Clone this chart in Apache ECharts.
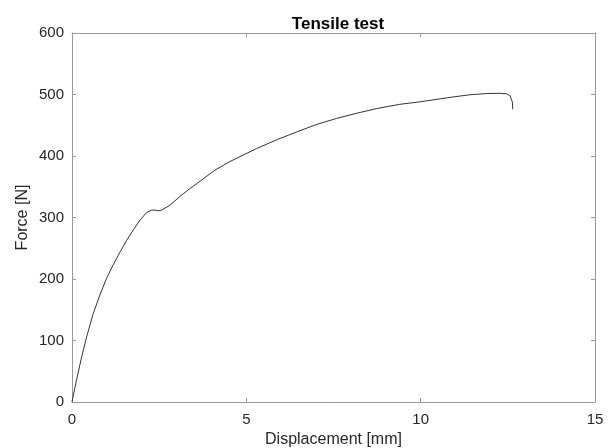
<!DOCTYPE html>
<html>
<head>
<meta charset="utf-8">
<script src="https://cdn.jsdelivr.net/npm/echarts@6/dist/echarts.min.js"></script>
<style>
  html, body { margin: 0; padding: 0; background: #fff; }
  #main { width: 615px; height: 448px; }
</style>
</head>
<body>
<div id="main"></div>
<script>
// displacement [mm]
var displacement = [0, 0.02, 0.13, 0.28, 0.42, 0.61, 0.80, 0.99, 1.18, 1.38, 1.57, 1.76, 1.95, 2.14, 2.28, 2.38, 2.47, 2.57, 2.81, 3.09, 3.38, 3.67, 4.1, 4.53, 5.0, 5.29, 5.9, 6.44, 7.0, 7.58, 8.2, 8.73, 9.4, 9.97, 10.5, 10.93, 11.4, 11.88, 12.26, 12.47, 12.56, 12.6, 12.63, 12.64];
// force [N]
var force = [0, 6, 36, 74, 106, 144, 174, 201, 223, 244, 263, 280, 296, 308, 312, 312, 311, 312, 320, 334, 347, 359, 377, 391, 404, 412, 427, 439, 451, 461, 470, 477, 484, 488, 492.5, 496, 499.5, 501.5, 502, 501, 498, 495, 488, 476];
var xTicks = [0, 5, 10, 15];
var yTicks = [0, 100, 200, 300, 400, 500, 600];

var points = [];
for (var i = 0; i < displacement.length; i++) {
    points.push([displacement[i], force[i]]);
}

var axisColor = '#999';
var textColor = '#262626';
var font = 'Liberation Sans, Arial, sans-serif';

function frameAxis(base, extra) {
    var a = {
        min: base.min, max: base.max, interval: base.interval,
        axisLine: { show: true, onZero: false, lineStyle: { color: axisColor, width: 1 } },
        axisTick: { show: true, inside: true, length: 4, lineStyle: { color: axisColor } },
        splitLine: { show: false }
    };
    for (var k in extra) a[k] = extra[k];
    return a;
}

var myChart = echarts.init(document.getElementById('main'), null, { renderer: 'canvas' });

var option = {
    animation: false,
    backgroundColor: '#fff',
    title: {
        text: 'Tensile test',
        left: 333, top: 11, textAlign: 'center',
        textStyle: { fontFamily: font, fontSize: 17, fontWeight: 'bold', color: '#000' }
    },
    grid: { left: 72, right: 20, top: 33, bottom: 46, outerBoundsMode: 'none' },
    xAxis: [
        frameAxis({ min: xTicks[0], max: xTicks[xTicks.length - 1], interval: 5 }, {
            type: 'value', position: 'bottom',
            name: 'Displacement [mm]', nameLocation: 'middle', nameGap: 27,
            nameTextStyle: { fontFamily: font, fontSize: 16, color: textColor },
            axisLabel: { fontFamily: font, fontSize: 15, color: textColor, margin: 10 }
        }),
        frameAxis({ min: xTicks[0], max: xTicks[xTicks.length - 1], interval: 5 }, {
            type: 'value', position: 'top', axisLabel: { show: false }
        })
    ],
    yAxis: [
        frameAxis({ min: yTicks[0], max: yTicks[yTicks.length - 1], interval: 100 }, {
            type: 'value', position: 'left',
            name: 'Force [N]', nameLocation: 'middle', nameGap: 41, nameMoveOverlap: false,
            nameTextStyle: { fontFamily: font, fontSize: 16, color: textColor },
            axisLabel: { fontFamily: font, fontSize: 15, color: textColor, margin: 8 }
        }),
        frameAxis({ min: yTicks[0], max: yTicks[yTicks.length - 1], interval: 100 }, {
            type: 'value', position: 'right', axisLabel: { show: false }
        })
    ],
    series: [{
        type: 'line',
        data: points,
        showSymbol: false,
        lineStyle: { color: '#333', width: 1 }
    }]
};

myChart.setOption(option);
</script>
</body>
</html>
